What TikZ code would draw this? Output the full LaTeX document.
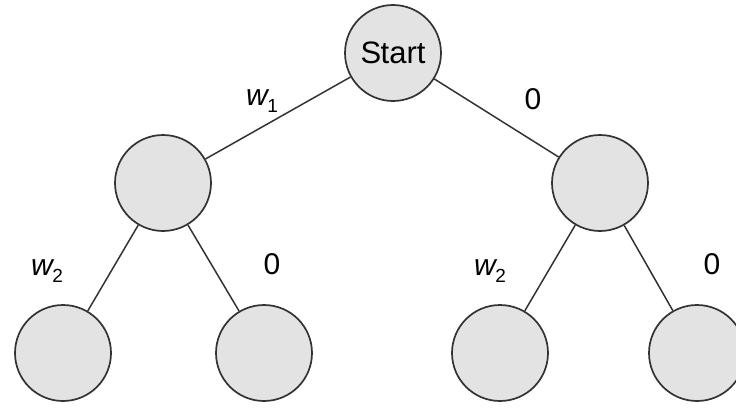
\documentclass[tikz,border=0pt]{standalone}
\usepackage{fontspec}
\setmainfont{Liberation Sans}
\newcommand{\wsub}[1]{\textit{w}\kern-2pt\raisebox{-0.4ex}{\fontsize{19}{19}\selectfont #1}}
\begin{document}
\begin{tikzpicture}[x=1pt,y=1pt,
  st/.style={circle,draw=black!80,line width=1.7pt,fill=black!11,minimum size=96pt,inner sep=0pt},
  edge/.style={draw=black!80,line width=1.5pt},
  lbl/.style={font=\fontsize{30}{30}\selectfont,inner sep=0pt}]
\useasboundingbox (0,0) rectangle (736,408);
\node[st] (s) at (393,355) {\fontsize{31}{31}\selectfont S\kern-0.5pt tart};
\node[st] (a) at (163,225) {};
\node[st] (b) at (600,225) {};
\node[st] (a1) at (63,55) {};
\node[st] (a2) at (264,55) {};
\node[st] (b1) at (500,55) {};
\node[st] (b2) at (697,55) {};
\draw[edge] (s) -- (a);
\draw[edge] (s) -- (b);
\draw[edge] (a) -- (a1);
\draw[edge] (a) -- (a2);
\draw[edge] (b) -- (b1);
\draw[edge] (b) -- (b2);
\node[lbl] (l1) at (262,307) {\wsub{1}};
\node[lbl] (l2) at (533,309) {0};
\node[lbl] (l3) at (47,137) {\wsub{2}};
\node[lbl] (l4) at (272,144) {0};
\node[lbl] (l5) at (490,137) {\wsub{2}};
\node[lbl] (l6) at (712,144) {0};
\end{tikzpicture}
\end{document}
